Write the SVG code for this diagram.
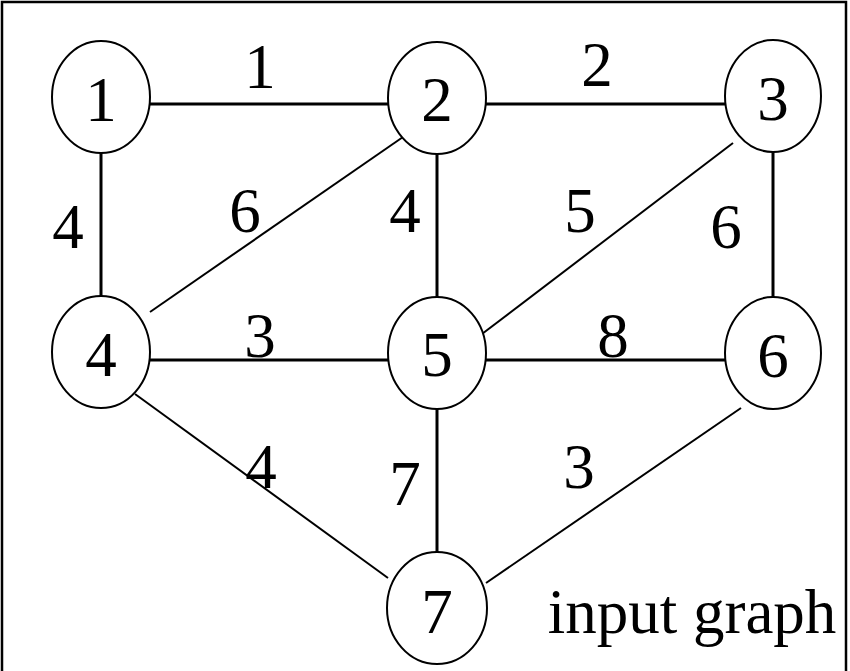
<svg xmlns="http://www.w3.org/2000/svg" width="850" height="671" viewBox="0 0 850 671">
<style>
.node ellipse{fill:#fff;stroke:#000;stroke-width:2}
.t{font-family:"Liberation Serif","Times New Roman",serif;font-size:63px;fill:#000;text-anchor:middle}
.h{stroke:#000;stroke-width:3}
.d{stroke:#000;stroke-width:2}
</style>
<rect width="850" height="671" fill="#fff"/>
<path d="M2,671 V2 H846 V671" fill="none" stroke="#000" stroke-width="2.5"/>
<g id="connectors">
<line class="h" x1="150" y1="104" x2="388" y2="104"/>
<line class="h" x1="486" y1="104" x2="725" y2="104"/>
<line class="h" x1="101" y1="153" x2="101" y2="296"/>
<line class="h" x1="437" y1="154" x2="437" y2="297"/>
<line class="h" x1="773" y1="152" x2="773" y2="297"/>
<line class="h" x1="150" y1="360" x2="388" y2="360"/>
<line class="h" x1="486" y1="360" x2="725" y2="360"/>
<line class="h" x1="437" y1="409" x2="437" y2="552"/>
<line class="d" x1="150" y1="312" x2="403" y2="137"/>
<line class="d" x1="733" y1="143" x2="478" y2="337"/>
<line class="d" x1="135" y1="394" x2="388" y2="578"/>
<line class="d" x1="486" y1="583" x2="741" y2="408"/>
<text class="t" x="260" y="88">1</text>
<text class="t" x="597" y="86">2</text>
<text class="t" x="68" y="248">4</text>
<text class="t" x="245" y="232">6</text>
<text class="t" x="405" y="232">4</text>
<text class="t" x="580" y="232">5</text>
<text class="t" x="726" y="248">6</text>
<text class="t" x="260" y="357">3</text>
<text class="t" x="613" y="357">8</text>
<text class="t" x="261" y="488">4</text>
<text class="t" x="405" y="505">7</text>
<text class="t" x="579" y="488">3</text>
</g>
<g id="n1" class="node"><ellipse cx="101" cy="97" rx="49" ry="56"/><text class="t" x="101" y="121">1</text></g>
<g id="n2" class="node"><ellipse cx="437" cy="98" rx="49" ry="56"/><text class="t" x="437" y="121">2</text></g>
<g id="n3" class="node"><ellipse cx="773" cy="96" rx="48" ry="56"/><text class="t" x="773" y="120">3</text></g>
<g id="n4" class="node"><ellipse cx="101" cy="352" rx="49" ry="56"/><text class="t" x="101" y="376">4</text></g>
<g id="n5" class="node"><ellipse cx="437" cy="353" rx="49" ry="56"/><text class="t" x="437" y="376">5</text></g>
<g id="n6" class="node"><ellipse cx="773" cy="353" rx="48" ry="56"/><text class="t" x="773" y="377">6</text></g>
<g id="n7" class="node"><ellipse cx="437" cy="608" rx="50" ry="56"/><text class="t" x="437" y="633">7</text></g>
<text class="t" x="692" y="633">input graph</text>
</svg>
